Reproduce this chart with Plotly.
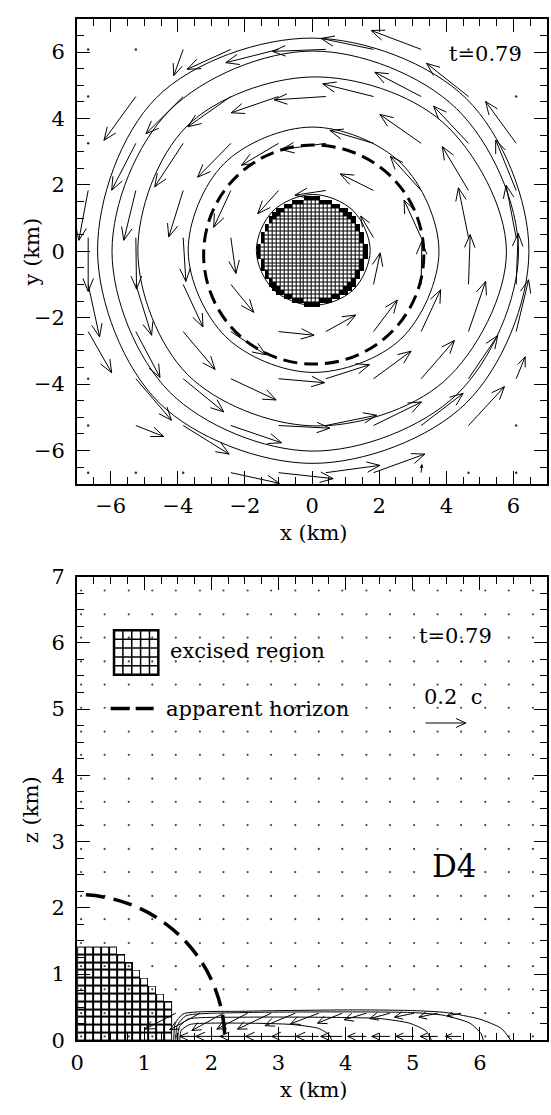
import math
import plotly.graph_objects as go

FONT = "DejaVu Serif"

# ---------------- upper panel: x-y (equatorial) plane ----------------
# velocity arrows: tail positions (km) and velocity components (units of c)
top_tail_x = [-3.84, -2.42, -1.00, 0.41, 1.83, 3.25,
              -5.25, -3.84, -2.42, -1.00, 0.41, 1.83, 3.25, 4.66,
              -5.25, -3.84, -2.42, -1.00, 0.41, 1.83, 3.25, 4.66, 6.08,
              -6.67, -5.25, -3.84, -2.42, -1.00, 0.41, 1.83, 3.25, 4.66, 6.08,
              -6.67, -5.25, -3.84, -2.42, 1.83, 3.25, 4.66, 6.08,
              -6.67, -5.25, -3.84, -2.42, 1.83, 3.25, 4.66, 6.08,
              -6.67, -5.25, -3.84, -2.42, -1.00, 0.41, 1.83, 3.25, 4.66, 6.08,
              -5.25, -3.84, -2.42, -1.00, 0.41, 1.83, 3.25, 4.66, 6.08,
              -5.25, -3.84, -2.42, -1.00, 0.41, 1.83, 3.25, 4.66,
              -2.42, -1.00, 0.41, 1.83, 3.25]
top_tail_y = [6.08] * 6 + [4.66] * 8 + [3.25] * 9 + [1.83] * 10 + [0.41] * 8 + \
             [-1.00] * 8 + [-2.42] * 10 + [-3.84] * 9 + [-5.25] * 8 + [-6.67] * 5
top_vx = [-0.056, -0.260, -0.314, -0.318, -0.312, -0.298,
          -0.190, -0.222, -0.256, -0.282, -0.308, -0.302, -0.276, -0.250,
          -0.144, -0.170, -0.198, -0.220, -0.266, -0.260, -0.246, -0.208, -0.182,
          -0.056, -0.072, -0.086, -0.102, -0.124, -0.184, -0.198, -0.184, -0.156, -0.122,
          0.000, 0.004, 0.016, 0.030, -0.076, -0.102, -0.060, -0.060,
          0.068, 0.094, 0.118, 0.136, 0.040, 0.004, 0.010, 0.012,
          0.140, 0.144, 0.190, 0.208, 0.212, 0.178, 0.142, 0.116, 0.102, 0.074,
          0.212, 0.242, 0.270, 0.274, 0.260, 0.224, 0.198, 0.174, 0.054,
          0.166, 0.274, 0.302, 0.306, 0.302, 0.286, 0.250, 0.214,
          0.290, 0.326, 0.322, 0.306, 0.004]
top_vy = [-0.158, -0.120, -0.080, -0.012, 0.066, 0.114,
          -0.264, -0.224, -0.182, -0.098, -0.020, 0.076, 0.146, 0.200,
          -0.282, -0.262, -0.204, -0.132, -0.038, 0.078, 0.174, 0.224, 0.252,
          -0.300, -0.300, -0.280, -0.222, -0.140, -0.028, 0.100, 0.206, 0.264, 0.304,
          -0.324, -0.310, -0.264, -0.216, 0.130, 0.226, 0.300, 0.316,
          -0.316, -0.306, -0.256, -0.168, 0.190, 0.260, 0.300, 0.308,
          -0.248, -0.276, -0.228, -0.140, -0.022, 0.100, 0.190, 0.252, 0.302, 0.312,
          -0.250, -0.200, -0.128, -0.024, 0.084, 0.166, 0.230, 0.260, 0.132,
          -0.066, -0.172, -0.104, -0.016, 0.062, 0.142, 0.194, 0.234,
          -0.064, -0.036, 0.044, 0.112, 0.048]
# grid points with vanishing velocity
top_rest_x = [-6.67, -5.25, 4.66, 6.08, -6.67, 6.08, -6.67, -6.67, -6.67, 6.08,
              -6.67, -5.25, -3.84, 4.66, 6.08]
top_rest_y = [6.08, 6.08, 6.08, 6.08, 4.66, 4.66, 3.25, -3.84, -5.25, -5.25,
              -6.67, -6.67, -6.67, -6.67, -6.67]

# density contours: radius (km) at polar angles
contour_angle_deg = [0, 45, 90, 135, 180, 225, 270, 315]
rho_c1 = [1.71, 1.70, 1.69, 1.68, 1.68, 1.66, 1.65, 1.69]
rho_c2 = [3.78, 3.75, 3.74, 3.72, 3.69, 3.64, 3.65, 3.74]
rho_c3 = [5.79, 5.50, 5.25, 5.30, 5.19, 5.25, 5.26, 5.55]
rho_c4 = [6.15, 6.08, 6.03, 6.00, 5.96, 6.00, 6.02, 6.10]
rho_c5 = [6.46, 6.50, 6.42, 6.55, 6.39, 6.45, 6.39, 6.48]

horizon_xy_center = (0.05, -0.10)
horizon_xy_semi = (3.28, 3.30)
excised_xy_radius = 1.5
cell_km = 0.118
time_label = "t=0.79"
top_km_per_c = 5.0

# ---------------- lower panel: x-z (meridional) plane ----------------
bot_grid = [0.06, 0.41, 0.77, 1.12, 1.47, 1.83, 2.18, 2.54, 2.89, 3.25,
            3.60, 3.95, 4.31, 4.66, 5.02, 5.37, 5.72, 6.08, 6.43, 6.79]
bot_tail_x = [1.47, 1.83, 2.18, 2.54, 2.89, 3.25, 3.60, 3.95, 4.31, 4.66, 5.02, 5.37, 5.72,
              1.83, 2.18, 2.54, 2.89, 3.25, 3.60, 3.95, 4.31, 4.66, 5.02, 5.37, 5.72]
bot_tail_z = [0.41] * 13 + [0.06] * 12
bot_vx = [-0.153, -0.150, -0.157, -0.153, -0.167, -0.150, -0.140, -0.123, -0.110, -0.100,
          -0.097, -0.093, -0.070,
          -0.100, -0.137, -0.137, -0.127, -0.117, -0.113, -0.107, -0.093, -0.090, -0.090,
          -0.087, -0.077]
bot_vz = [-0.080, -0.083, -0.087, -0.080, -0.080, -0.063, -0.053, -0.050, -0.033, -0.027,
          -0.020, -0.020, -0.013] + [0.0] * 12
excised_row_cells = [12, 12, 12, 12, 12, 11, 10, 9, 8, 7, 6, 5]
horizon_xz_radius = 2.2
bot_km_per_c = 3.0
ref_speed = 0.2

kx_a = [1.44, 1.46, 1.58, 2.50, 4.10, 5.00, 5.50, 6.00, 6.32, 6.46]
kz_a = [0.00, 0.25, 0.40, 0.44, 0.46, 0.45, 0.42, 0.32, 0.18, 0.00]
kx_b = [1.47, 1.49, 1.62, 2.50, 4.00, 5.00, 5.45, 5.85, 6.02, 6.05]
kz_b = [0.00, 0.22, 0.37, 0.42, 0.43, 0.42, 0.38, 0.26, 0.10, 0.00]
kx_c = [1.50, 1.52, 1.65, 2.50, 3.50, 4.50, 4.95, 5.20, 5.28]
kz_c = [0.00, 0.20, 0.32, 0.35, 0.35, 0.33, 0.26, 0.14, 0.00]
kx_d = [1.53, 1.55, 1.68, 2.50, 3.20, 3.60, 3.76, 3.79]
kz_d = [0.00, 0.15, 0.24, 0.26, 0.24, 0.18, 0.08, 0.00]


def arrow_paths(x0s, y0s, vxs, vys, km_per_c, head_km, half_deg=22):
    xs, ys = [], []
    a = math.radians(half_deg)
    for x0, y0, vx, vy in zip(x0s, y0s, vxs, vys):
        dx, dy = vx * km_per_c, vy * km_per_c
        length = math.hypot(dx, dy)
        if length == 0:
            continue
        x1, y1 = x0 + dx, y0 + dy
        h = min(head_km, 0.45 * length)
        bx, by = -dx / length, -dy / length
        xs += [x0, x1]
        ys += [y0, y1]
        for s in (1, -1):
            rx = bx * math.cos(a) - by * math.sin(s * a)
            ry = bx * math.sin(s * a) + by * math.cos(a)
            xs += [x1 + h * rx, None, x1] if s == 1 else [x1 + h * rx, None]
            ys += [y1 + h * ry, None, y1] if s == 1 else [y1 + h * ry, None]
    return xs, ys


def closed_contour(rho, center=(0.0, 0.0)):
    xs = [center[0] + r * math.cos(math.radians(t)) for r, t in zip(rho, contour_angle_deg)]
    ys = [center[1] + r * math.sin(math.radians(t)) for r, t in zip(rho, contour_angle_deg)]
    return xs + xs[:1], ys + ys[:1]


fig = go.Figure()
line_k = dict(color="black", width=1)

# ---- upper panel ----
centers = [cell_km * (k + 0.5) for k in range(-15, 15)]
z_ring = [[1 if math.hypot(x, y) <= excised_xy_radius + 0.11 else None for x in centers]
          for y in centers]
z_cell = [[1 if math.hypot(x, y) <= excised_xy_radius else None for x in centers]
          for y in centers]
fig.add_trace(go.Heatmap(x=centers, y=centers, z=z_ring, zmin=0, zmax=1,
                         colorscale=[[0, "black"], [1, "black"]], showscale=False,
                         hoverinfo="skip", xaxis="x", yaxis="y"))
fig.add_trace(go.Heatmap(x=centers, y=centers, z=z_cell, zmin=0, zmax=1,
                         colorscale=[[0, "white"], [1, "white"]], showscale=False,
                         xgap=1, ygap=1, hoverinfo="skip", xaxis="x", yaxis="y"))

c1_center = (0.02, 0.02)
for rho in (rho_c1, rho_c2, rho_c3, rho_c4, rho_c5):
    cx, cy = closed_contour(rho, c1_center if rho is rho_c1 else (0.0, 0.0))
    fig.add_trace(go.Scatter(x=cx, y=cy, mode="lines", line=dict(color="black", width=1,
                             shape="spline", smoothing=1.0), hoverinfo="skip",
                             xaxis="x", yaxis="y"))

ax_, ay_ = arrow_paths(top_tail_x, top_tail_y, top_vx, top_vy, top_km_per_c, 0.42)
fig.add_trace(go.Scatter(x=ax_, y=ay_, mode="lines", line=line_k, hoverinfo="skip",
                         xaxis="x", yaxis="y"))
fig.add_trace(go.Scatter(x=top_rest_x, y=top_rest_y, mode="markers",
                         marker=dict(size=2.5, color="#333"), hoverinfo="skip",
                         xaxis="x", yaxis="y"))

# ---- lower panel ----
ncol = max(excised_row_cells)
bxc = [cell_km * (k + 0.5) for k in range(ncol)]
bzc = [cell_km * (j + 0.5) for j in range(len(excised_row_cells))]
zb = [[1 if k < n else None for k in range(ncol)] for n in excised_row_cells]
fig.add_trace(go.Heatmap(x=bxc, y=bzc, z=zb, zmin=0, zmax=1,
                         colorscale=[[0, "black"], [1, "black"]], showscale=False,
                         hoverinfo="skip", xaxis="x2", yaxis="y2"))
fig.add_trace(go.Heatmap(x=bxc, y=bzc, z=zb, zmin=0, zmax=1,
                         colorscale=[[0, "white"], [1, "white"]], showscale=False,
                         xgap=2, ygap=2, hoverinfo="skip", xaxis="x2", yaxis="y2"))

taken = set(zip(bot_tail_x, bot_tail_z))
dx_, dz_ = [], []
for gz in bot_grid:
    for gx in bot_grid:
        if (gx, gz) not in taken:
            dx_.append(gx)
            dz_.append(gz)
fig.add_trace(go.Scatter(x=dx_, y=dz_, mode="markers", marker=dict(size=2.2, color="#444"),
                         hoverinfo="skip", xaxis="x2", yaxis="y2"))

for kx, kz in ((kx_a, kz_a), (kx_b, kz_b), (kx_c, kz_c), (kx_d, kz_d)):
    fig.add_trace(go.Scatter(x=kx, y=kz, mode="lines",
                             line=dict(color="black", width=1, shape="spline", smoothing=0.6),
                             hoverinfo="skip", xaxis="x2", yaxis="y2"))

bx_, bz_ = arrow_paths(bot_tail_x, bot_tail_z, bot_vx, bot_vz, bot_km_per_c, 0.15, 25)
fig.add_trace(go.Scatter(x=bx_, y=bz_, mode="lines", line=line_k, hoverinfo="skip",
                         xaxis="x2", yaxis="y2"))

# reference arrow for 0.2 c
rx_, rz_ = arrow_paths([5.19], [4.79], [ref_speed], [0.0], bot_km_per_c, 0.16, 25)
fig.add_trace(go.Scatter(x=rx_, y=rz_, mode="lines", line=line_k, hoverinfo="skip",
                         xaxis="x2", yaxis="y2"))

shapes = [
    dict(type="circle", xref="x", yref="y",
         x0=horizon_xy_center[0] - horizon_xy_semi[0], x1=horizon_xy_center[0] + horizon_xy_semi[0],
         y0=horizon_xy_center[1] - horizon_xy_semi[1], y1=horizon_xy_center[1] + horizon_xy_semi[1],
         line=dict(color="black", width=3, dash="14px,7px")),
    dict(type="circle", xref="x2", yref="y2",
         x0=-horizon_xz_radius, x1=horizon_xz_radius, y0=-horizon_xz_radius, y1=horizon_xz_radius,
         line=dict(color="black", width=3.5, dash="19px,9px")),
    # legend: dashed horizon sample
    dict(type="line", xref="x2", yref="y2", x0=0.50, x1=1.14, y0=5.01, y1=5.01,
         line=dict(color="black", width=3.5, dash="19px,6px")),
    # legend: excised-region swatch
    dict(type="rect", xref="x2", yref="y2", x0=0.55, x1=1.21, y0=5.52, y1=6.19,
         line=dict(color="black", width=2.5)),
]
for k in range(1, 5):
    xv = 0.55 + (1.21 - 0.55) * k / 5
    zv = 5.52 + (6.19 - 5.52) * k / 5
    shapes.append(dict(type="line", xref="x2", yref="y2", x0=xv, x1=xv, y0=5.52, y1=6.19,
                       line=dict(color="black", width=1.5)))
    shapes.append(dict(type="line", xref="x2", yref="y2", x0=0.55, x1=1.21, y0=zv, y1=zv,
                       line=dict(color="black", width=1.5)))

txt = dict(family=FONT, size=21, color="black")
tickf = dict(family=FONT, size=21, color="black")


def note(text, x, y, xref, yref, **kw):
    d = dict(text=text, x=x, y=y, xref=xref, yref=yref, showarrow=False,
             xanchor="center", yanchor="middle", font=txt)
    d.update(kw)
    return d


annotations = [
    note(time_label, 5.16, 5.93, "x", "y"),
    note(time_label, 5.64, 6.10, "x2", "y2"),
    note("0.2  c", 5.60, 5.18, "x2", "y2"),
    note("excised region", 1.35, 5.88, "x2", "y2", xanchor="left"),
    note("apparent horizon", 1.30, 5.00, "x2", "y2", xanchor="left"),
    note("D4", 5.62, 2.63, "x2", "y2", font=dict(family=FONT, size=31, color="black")),
    note("y (km)", 25 / 551, 1 - 245 / 1115, "paper", "paper", textangle=-90),
    note("x (km)", 311 / 551, 1 - 532 / 1115, "paper", "paper"),
    note("z (km)", 25 / 551, 1 - 815 / 1115, "paper", "paper", textangle=-90),
    note("x (km)", 311 / 551, 1 - 1102 / 1115, "paper", "paper"),
]


def axis(domain, rng, dtick, minor_dtick, anchor, standoff):
    return dict(domain=domain, range=rng, anchor=anchor, dtick=dtick, tick0=0,
                showline=True, linewidth=2, linecolor="black", mirror="allticks",
                ticks="inside", ticklen=13, tickwidth=1, tickcolor="black",
                ticklabelstandoff=standoff,
                minor=dict(dtick=minor_dtick, tick0=0, ticks="inside", ticklen=7,
                           tickwidth=1, tickcolor="black", showgrid=False),
                showgrid=False, zeroline=False, tickfont=tickf, fixedrange=True)


xdom = [71 / 551, 547 / 551]
fig.update_layout(
    width=551, height=1115, margin=dict(l=0, r=0, t=0, b=0),
    paper_bgcolor="white", plot_bgcolor="white", showlegend=False,
    xaxis=axis(xdom, [-7, 7], 2, 0.5, "y", 2),
    yaxis=axis([1 - 482 / 1115, 1 - 7 / 1115], [-7, 7], 2, 0.5, "x", 6),
    xaxis2=axis(xdom, [0, 7], 1, 0.25, "y2", 2),
    yaxis2=axis([1 - 1051 / 1115, 1 - 577 / 1115], [0, 7], 1, 0.25, "x2", 6),
    shapes=shapes, annotations=annotations,
)

fig.write_html("out.html")
